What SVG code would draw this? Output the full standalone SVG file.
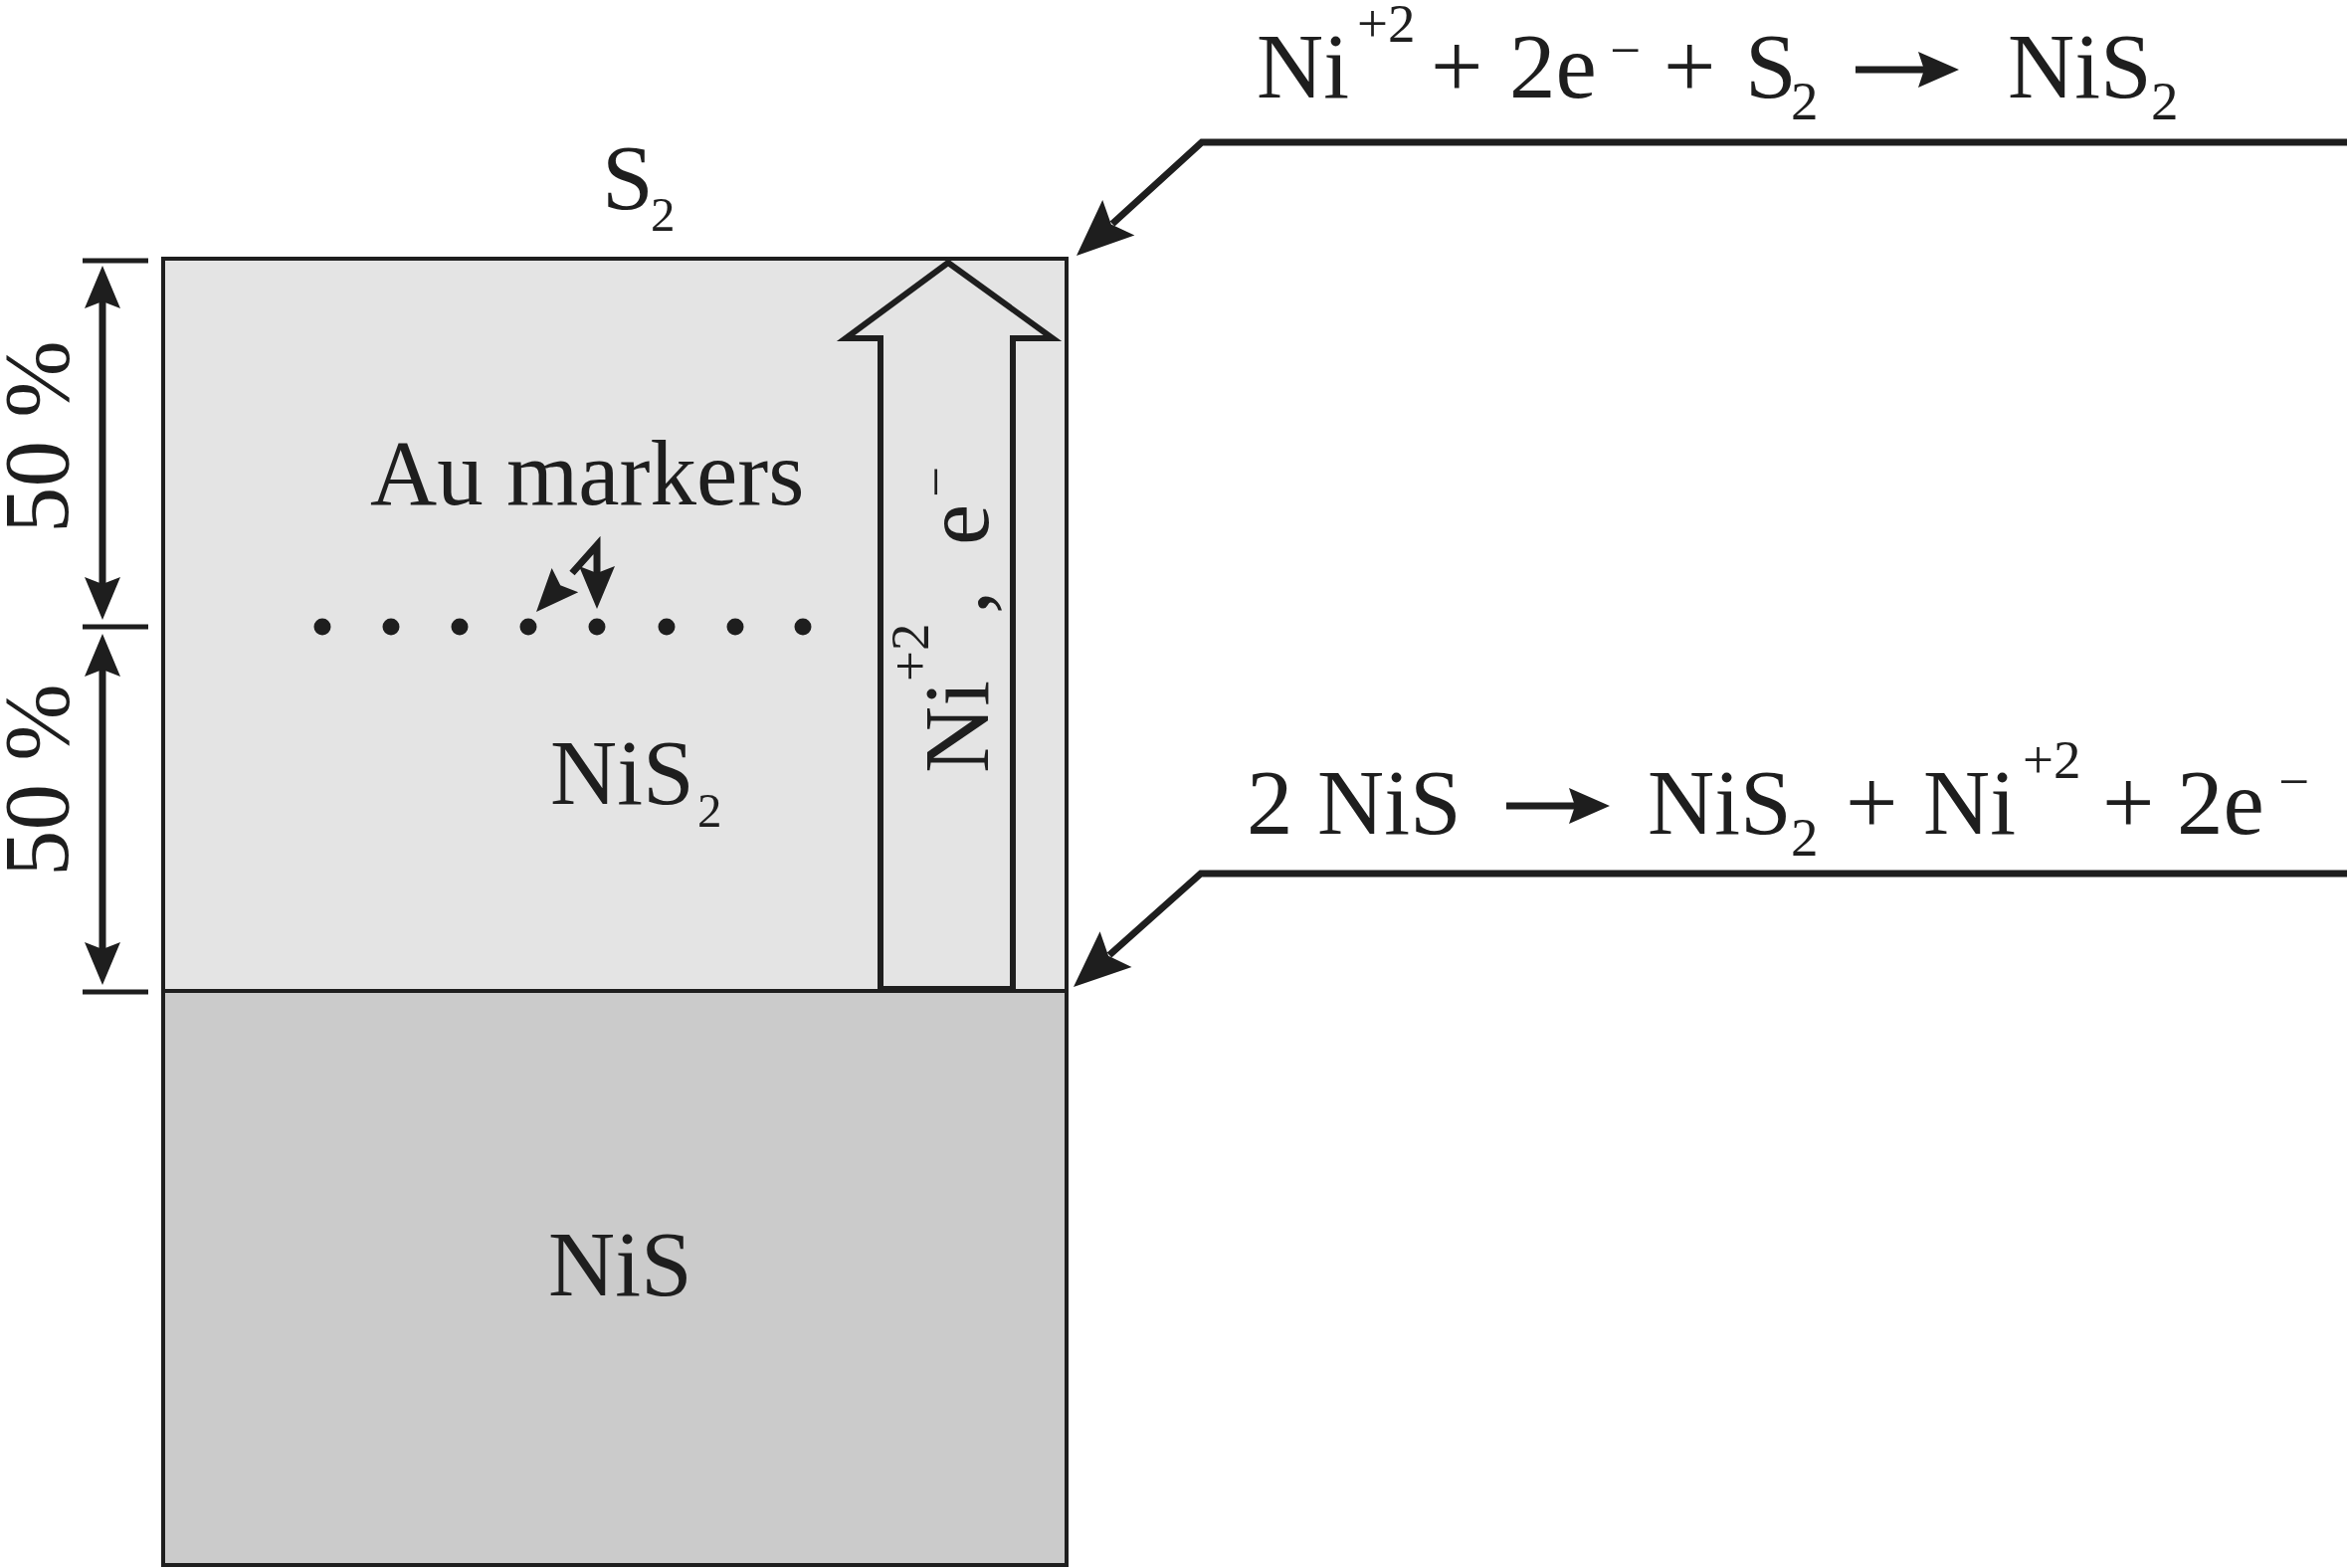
<svg xmlns="http://www.w3.org/2000/svg" xmlns:xlink="http://www.w3.org/1999/xlink" width="2359" height="1576" viewBox="0 0 2359 1576">
<style>
text{font-family:"Liberation Serif","Times New Roman",serif;fill:#1e1e1e;font-size:93px}
.s{font-size:55px}
.ss{font-size:49px}
.ln{fill:none;stroke:#1e1e1e;stroke-width:7;stroke-linejoin:miter}
.thin{fill:none;stroke:#1e1e1e;stroke-width:5}
.box{stroke:#1e1e1e;stroke-width:4}
.hd{fill:#1e1e1e}
</style>
<defs>
<path id="ahL" d="M0,0 L-57,-24 L-47,0 L-57,24 Z"/>
<path id="ahS" d="M0,0 L-43,-18 L-36,0 L-43,18 Z"/>
</defs>
<rect width="2359" height="1576" fill="#ffffff"/>

<g id="layer-nis2">
<rect class="box" x="164" y="260" width="908" height="736" fill="#e4e4e4"/>
<text x="553" y="808">NiS<tspan class="ss" x="701" y="831">2</tspan></text>
</g>
<g id="layer-nis">
<rect class="box" x="164" y="996" width="908" height="577" fill="#cbcbcb"/>
<text x="551" y="1302">NiS</text>
</g>
<g id="label-s2">
<text x="605" y="210">S<tspan class="ss" x="654" y="232">2</tspan></text>
</g>

<g id="flux-arrow">
<polygon points="885,994 885,340 850,340 953,264 1058,340 1018,340 1018,994" fill="none" stroke="#1e1e1e" stroke-width="6" stroke-linejoin="miter"/>
<text transform="translate(993,777) rotate(-90)">Ni<tspan class="s" x="92" y="-60">+2</tspan><tspan x="160" y="0">,</tspan><tspan x="229" y="0">e</tspan><tspan class="s" x="277" y="-34">−</tspan></text>
</g>

<g id="au-markers">
<text x="372" y="507">Au markers</text>
<g class="hd">
<circle cx="324" cy="630" r="8.5"/><circle cx="393" cy="630" r="8.5"/><circle cx="462" cy="630" r="8.5"/><circle cx="531" cy="630" r="8.5"/>
<circle cx="600" cy="630" r="8.5"/><circle cx="670" cy="630" r="8.5"/><circle cx="739" cy="630" r="8.5"/><circle cx="807" cy="630" r="8.5"/>
</g>
</g>

<g id="dimension">
<line class="thin" x1="83" y1="262" x2="149" y2="262"/>
<line class="thin" x1="83" y1="630" x2="149" y2="630"/>
<line class="thin" x1="83" y1="997" x2="149" y2="997"/>
<text transform="translate(68,536) rotate(-90)">50 %</text>
<text transform="translate(68,881) rotate(-90)">50 %</text>
</g>

<g id="equation-top">
<text x="1263" y="98">Ni</text>
<text class="s" x="1364" y="42">+2</text>
<text x="1438" y="98">+</text>
<text x="1517" y="98">2e</text>
<text class="s" x="1618" y="69">−</text>
<text x="1672" y="98">+</text>
<text x="1754" y="98">S</text>
<text class="s" x="1800" y="120">2</text>
<text x="2018" y="98">NiS</text>
<text class="s" x="2162" y="120">2</text>
</g>

<g id="equation-bottom">
<text x="1253" y="838">2</text>
<text x="1324" y="838">NiS</text>
<text x="1656" y="838">NiS</text>
<text class="s" x="1800" y="860">2</text>
<text x="1855" y="838">+</text>
<text x="1933" y="838">Ni</text>
<text class="s" x="2033" y="782">+2</text>
<text x="2113" y="838">+</text>
<text x="2188" y="838">2e</text>
<text class="s" x="2290" y="804">−</text>
</g>

<g id="connectors">
<line class="ln" x1="103" y1="300" x2="103" y2="592" stroke-width="6"/>
<line class="ln" x1="103" y1="668" x2="103" y2="958" stroke-width="6"/>
<use href="#ahS" class="hd" transform="translate(103,267) rotate(-90)"/>
<use href="#ahS" class="hd" transform="translate(103,623) rotate(90)"/>
<use href="#ahS" class="hd" transform="translate(103,637) rotate(-90)"/>
<use href="#ahS" class="hd" transform="translate(103,990) rotate(90)"/>
<polyline class="ln" stroke-width="5" points="575,576 600,548 600,580"/>
<use href="#ahS" class="hd" transform="translate(539,615) rotate(132.3)"/>
<use href="#ahS" class="hd" transform="translate(600,612) rotate(90)"/>
<line class="ln" x1="1865" y1="70" x2="1935" y2="70"/>
<path class="hd" d="M1969,70 L1928,52 L1934,70 L1928,88 Z"/>
<line class="ln" x1="1514" y1="810" x2="1585" y2="810"/>
<path class="hd" d="M1618,810 L1577,792 L1583,810 L1577,828 Z"/>
<polyline class="ln" points="2359,143 1208,143 1118,225"/>
<use href="#ahL" class="hd" transform="translate(1082,257) rotate(137.9)"/>
<polyline class="ln" points="2359,878 1207,878 1115,960"/>
<use href="#ahL" class="hd" transform="translate(1079,992) rotate(138.3)"/>
</g>
</svg>
